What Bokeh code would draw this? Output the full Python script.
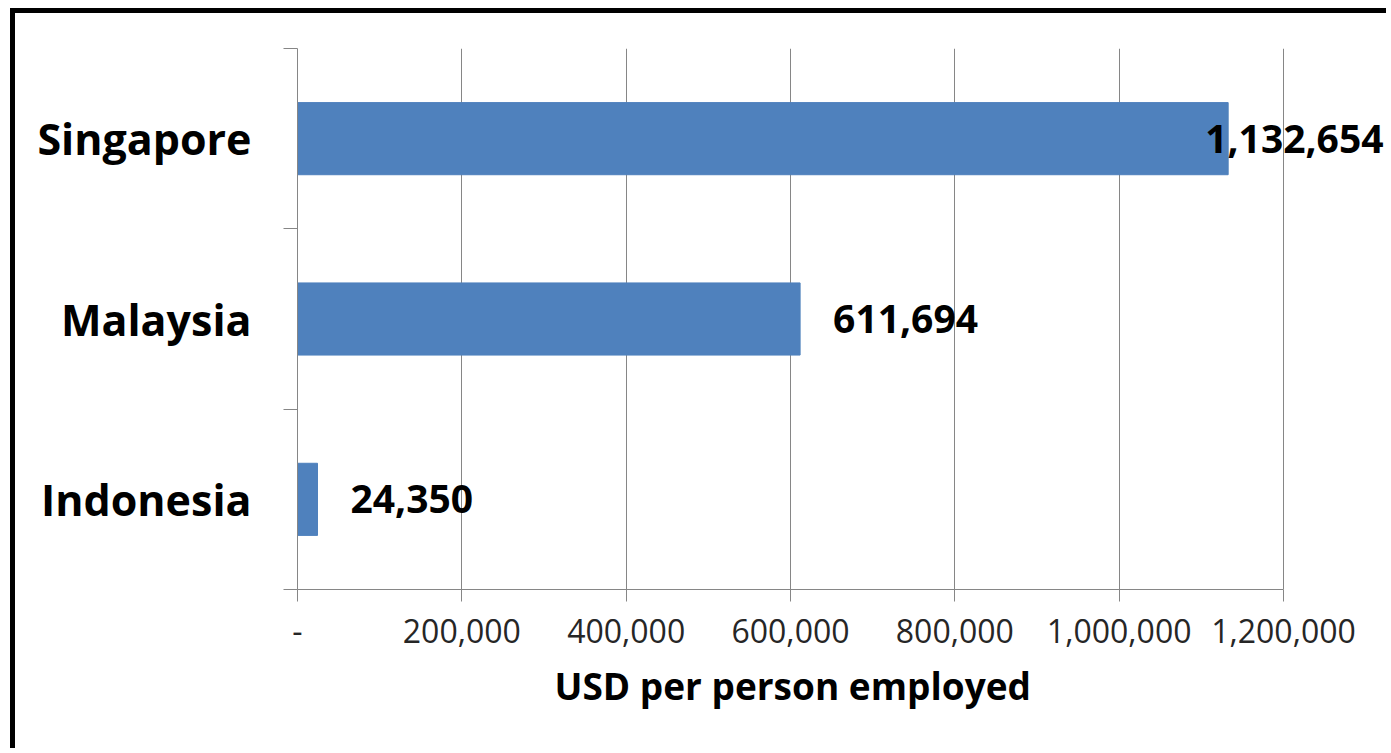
from bokeh.plotting import figure
from bokeh.models import ColumnDataSource, FixedTicker, LabelSet, Range1d, Title
from bokeh.core.properties import value
from bokeh.embed import file_html
from bokeh.resources import INLINE

# ---- data ----
countries = ["Indonesia", "Malaysia", "Singapore"]
usd_per_person = [24350, 611694, 1132654]
value_labels = ["24,350", "611,694", "1,132,654"]
x_ticks = [0, 200000, 400000, 600000, 800000, 1000000, 1200000]
x_tick_labels = ["-", "200,000", "400,000", "600,000", "800,000", "1,000,000", "1,200,000"]
axis_title = "USD per person employed"

# style: label offsets in px (Excel pulled the last label back to fit)
label_offsets = [33, 33, -23]

ypos = [i + 0.5 for i in range(len(countries))]
src = ColumnDataSource(dict(y=ypos, v=usd_per_person, lab=value_labels, off=label_offsets))

GRAY = "#868686"
FONT = "Open Sans"

# canvas geometry (the frame continues to the window edge so the last label can overflow)
W, H = 1376, 740
FRAME_LEFT, FRAME_TOP, FRAME_BOTTOM = 282, 35, 576
AXIS_END_PX = 1283 - 15
x_max = x_ticks[-1]
x_view_end = x_max * (W - FRAME_LEFT) / (AXIS_END_PX - FRAME_LEFT)

p = figure(width=W, height=H, output_backend="svg", toolbar_location=None,
           x_range=Range1d(0, x_view_end), y_range=Range1d(0, len(countries)),
           min_border_left=FRAME_LEFT, min_border_right=0, min_border_top=FRAME_TOP,
           min_border_bottom=H - FRAME_BOTTOM)
p.styles = {"border-left": "5px solid black", "border-top": "5px solid black",
            "margin-left": "10px", "margin-top": "8px"}
p.outline_line_color = None
p.background_fill_color = "white"
p.border_fill_color = "white"

p.hbar(y="y", right="v", left=0, height=0.4, source=src, color="#4F81BD", line_color="#4F81BD")

labels = LabelSet(x="v", y="y", text="lab", source=src, x_offset="off",
                  text_align="left", text_baseline="middle", text_font=value(FONT),
                  text_font_style="bold", text_font_size="39px", text_color="black")
p.add_layout(labels)

# x axis
p.xaxis.ticker = FixedTicker(ticks=x_ticks)
p.xaxis.bounds = (0, x_max)
p.xaxis.major_label_overrides = {t: l for t, l in zip(x_ticks, x_tick_labels)}
p.xaxis.axis_line_color = GRAY
p.xaxis.major_tick_line_color = GRAY
p.xaxis.major_tick_out = 12
p.xaxis.major_tick_in = 0
p.xaxis.minor_tick_line_color = None
p.xaxis.major_label_text_font = FONT
p.xaxis.major_label_text_font_size = "32px"
p.xaxis.major_label_text_color = "#262626"
p.xaxis.major_label_standoff = 17

# axis title, centred under the visible axis (not the extended frame)
xt = Title(text=axis_title, align="left", offset=257, standoff=25,
           text_font=FONT, text_font_style="bold", text_font_size="37px", text_color="black")
p.add_layout(xt, "below")

# y axis: labels at centres, tick marks at category boundaries
p.yaxis.ticker = FixedTicker(ticks=ypos, minor_ticks=list(range(len(countries) + 1)))
p.yaxis.major_label_overrides = {y: c for y, c in zip(ypos, countries)}
p.yaxis.axis_line_color = GRAY
p.yaxis.major_tick_out = 0
p.yaxis.major_tick_in = 0
p.yaxis.minor_tick_line_color = GRAY
p.yaxis.minor_tick_out = 14
p.yaxis.minor_tick_in = 0
p.yaxis.major_label_text_font = FONT
p.yaxis.major_label_text_font_style = "bold"
p.yaxis.major_label_text_font_size = "43px"
p.yaxis.major_label_text_color = "black"
p.yaxis.major_label_standoff = 32

p.xgrid.ticker = FixedTicker(ticks=x_ticks)
p.xgrid.grid_line_color = GRAY
p.ygrid.grid_line_color = None

open("out.html", "w").write(file_html(p, INLINE))
